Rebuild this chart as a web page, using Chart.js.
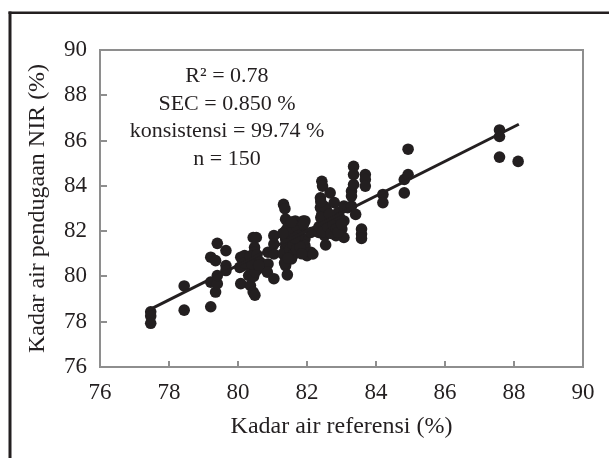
<!DOCTYPE html>
<html><head><meta charset="utf-8">
<script src="https://cdn.jsdelivr.net/npm/chart.js@4.4.0/dist/chart.umd.min.js"></script>
<style>html,body{margin:0;padding:0;background:#fff;}canvas{display:block;}</style>
</head><body>
<canvas id="c" width="609" height="458"></canvas>
<script>
// Reference moisture content (%) vs NIR-predicted moisture content (%)
const refX = [
  77.47,77.47,77.47,78.44,78.44,79.21,79.21,79.35,79.21,79.35,
  79.40,79.40,79.40,79.65,79.65,79.65,80.08,80.08,80.14,80.19,
  80.31,80.36,80.44,80.53,80.44,80.49,80.48,80.48,80.53,80.59,
  80.42,80.31,80.64,80.87,80.87,80.85,81.04,81.04,81.04,81.04,
  81.32,81.36,81.38,81.38,81.38,81.38,81.38,81.38,81.43,81.49,
  81.55,81.55,81.55,81.66,81.68,81.72,81.77,81.83,81.89,81.94,
  81.94,82.00,82.11,82.11,81.94,82.17,82.34,82.39,82.43,82.45,
  82.39,82.43,82.45,82.43,82.51,82.54,82.56,82.67,82.73,82.79,
  82.84,82.79,82.90,83.01,83.07,83.07,83.07,83.18,83.29,83.35,
  83.35,83.29,83.35,83.41,83.29,83.69,83.69,83.69,83.58,83.58,
  83.58,84.20,84.20,84.82,84.82,84.93,84.93,87.58,87.58,87.58,
  88.12,
  80.05,80.20,80.35,80.45,80.50,80.55,80.40,80.60,
  81.30,81.35,81.40,81.45,81.50,81.50,81.60,81.60,81.70,81.70,
  81.75,81.80,81.85,81.90,81.45,81.55,81.65,81.30,
  82.35,82.40,82.45,82.60,82.70,82.75,82.85,82.90,82.50,82.40,
  82.95,83.00,82.65
];
const nirY = [
  78.44,78.25,77.93,79.58,78.51,78.66,80.85,80.70,79.75,79.31,
  79.68,80.04,81.46,81.14,80.48,80.26,80.85,79.68,80.48,80.92,
  80.04,79.60,81.72,81.72,79.31,79.17,81.28,81.07,80.63,80.34,
  80.19,80.48,80.63,81.07,80.55,80.19,79.90,81.80,81.43,80.99,
  83.18,82.99,82.53,82.01,81.65,81.28,80.85,80.48,80.07,81.07,
  82.09,81.65,80.77,82.45,81.94,81.50,81.07,82.09,82.45,81.65,
  81.36,80.92,81.07,81.94,82.45,80.99,81.94,83.47,84.20,83.99,
  83.04,82.74,82.45,82.09,81.80,81.39,82.96,83.69,82.53,82.01,
  81.80,83.26,82.82,82.09,83.11,82.45,81.72,83.04,83.11,84.86,
  84.50,83.77,84.06,82.74,83.55,84.50,84.28,83.99,82.09,81.87,
  81.68,83.62,83.26,83.69,84.28,84.50,85.62,86.47,86.18,85.27,
  85.08,
  80.40,80.60,80.90,80.00,80.20,80.95,80.55,80.50,
  81.00,80.60,81.50,82.20,81.90,81.20,81.40,80.95,81.20,82.20,
  81.80,81.30,81.00,82.30,80.80,82.40,81.70,81.90,
  82.20,82.60,81.95,82.20,81.90,82.30,82.10,81.95,83.10,83.30,
  82.60,82.30,82.75
];
// regression line end points
const fitX = [77.41, 88.14];
const fitY = [78.51, 86.72];
const xTicks = [76, 78, 80, 82, 84, 86, 88, 90];
const yTicks = [76, 78, 80, 82, 84, 86, 88, 90];
const statLines = ['R\u00B2 = 0.78', 'SEC = 0.850 %', 'konsistensi = 99.74 %', 'n = 150'];
const xTitle = 'Kadar air referensi (%)';
const yTitle = 'Kadar air pendugaan NIR (%)';

const INK = '#231f20';
const AXIS = '#8e8e8e';
const SERIF = '"Liberation Serif", "Times New Roman", serif';

const framePlugin = {
  id: 'frame',
  beforeDraw(chart) {
    const ctx = chart.ctx;
    ctx.save();
    ctx.fillStyle = '#fff';
    ctx.fillRect(0, 0, chart.width, chart.height);
    ctx.restore();
  },
  afterDatasetsDraw(chart) {
    const ctx = chart.ctx;
    const a = chart.chartArea;
    const xs = chart.scales.x, ys = chart.scales.y;
    ctx.save();
    // plot frame
    ctx.strokeStyle = AXIS;
    ctx.lineWidth = 2;
    ctx.strokeRect(a.left, a.top, a.right - a.left, a.bottom - a.top);
    // inner ticks
    ctx.beginPath();
    xTicks.forEach(v => {
      const px = Math.round(xs.getPixelForValue(v));
      ctx.moveTo(px, a.bottom);
      ctx.lineTo(px, a.bottom - 6);
    });
    yTicks.forEach(v => {
      const py = Math.round(ys.getPixelForValue(v));
      ctx.moveTo(a.left, py);
      ctx.lineTo(a.left + 7, py);
    });
    ctx.stroke();
    // outer figure frame (left and top edges)
    ctx.strokeStyle = INK;
    ctx.lineWidth = 3;
    ctx.beginPath();
    ctx.moveTo(10, 11.5);
    ctx.lineTo(10, chart.height);
    ctx.stroke();
    ctx.lineWidth = 2.5;
    ctx.beginPath();
    ctx.moveTo(8.5, 12.8);
    ctx.lineTo(chart.width, 12.8);
    ctx.stroke();
    // statistics text
    ctx.fillStyle = INK;
    ctx.font = '22px ' + SERIF;
    ctx.textAlign = 'center';
    ctx.textBaseline = 'middle';
    const cx = xs.getPixelForValue(79.68);
    const cy = ys.getPixelForValue(88.83);
    statLines.forEach((t, i) => ctx.fillText(t, cx, cy + i * 27.5));
    ctx.restore();
  }
};

const pts = refX.map((x, i) => ({x: x, y: nirY[i]}));
const fit = fitX.map((x, i) => ({x: x, y: fitY[i]}));

new Chart(document.getElementById('c'), {
  type: 'scatter',
  data: {
    datasets: [
      {
        data: pts,
        pointRadius: 5.8,
        pointHoverRadius: 5.8,
        pointStyle: 'circle',
        backgroundColor: INK,
        borderWidth: 0,
        order: 2
      },
      {
        type: 'line',
        data: fit,
        borderColor: INK,
        borderWidth: 3,
        pointRadius: 0,
        fill: false,
        order: 1
      }
    ]
  },
  options: {
    responsive: false,
    animation: false,
    devicePixelRatio: 1,
    layout: { padding: { left: 0, top: 50, right: 26, bottom: 0 } },
    plugins: { legend: { display: false }, tooltip: { enabled: false } },
    scales: {
      x: {
        type: 'linear', min: 76, max: 90,
        afterBuildTicks: s => { s.ticks = xTicks.map(v => ({value: v})); },
        afterFit: s => { s.height = 91; },
        grid: { display: false, drawTicks: false },
        border: { display: false },
        ticks: { color: INK, font: { family: SERIF, size: 23 }, padding: 12, maxRotation: 0 },
        title: { display: true, text: xTitle, color: INK, font: { family: SERIF, size: 24 }, padding: { top: 0, bottom: 17 } }
      },
      y: {
        type: 'linear', min: 76, max: 90,
        afterBuildTicks: s => { s.ticks = yTicks.map(v => ({value: v})); },
        afterFit: s => { s.width = 100; },
        grid: { display: false, drawTicks: false },
        border: { display: false },
        ticks: { color: INK, font: { family: SERIF, size: 23 }, padding: 13 },
        title: { display: true, text: yTitle, color: INK, font: { family: SERIF, size: 24 }, padding: { top: 23, bottom: 0 } }
      }
    }
  },
  plugins: [framePlugin]
});
</script>
</body></html>
